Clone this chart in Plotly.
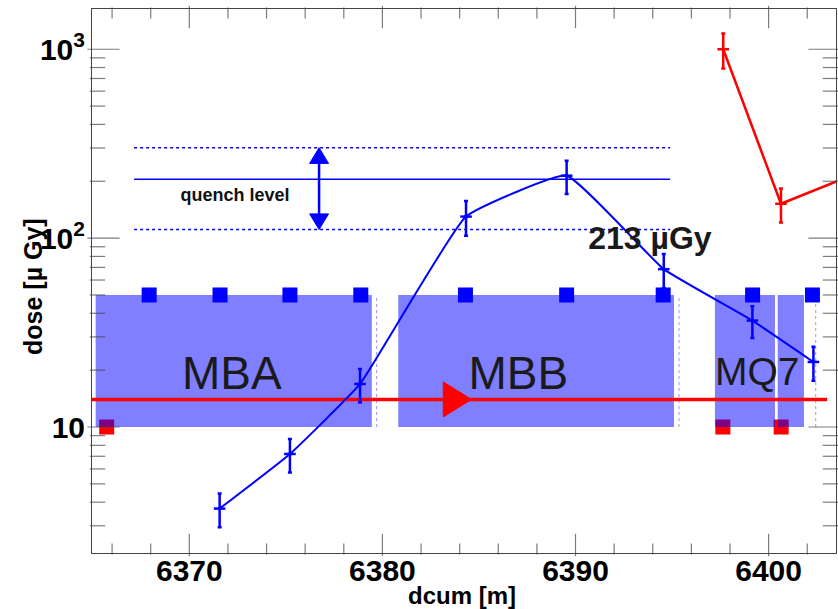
import plotly.graph_objects as go

# ---------------- data ----------------
blm_x = [6371.57, 6375.21, 6378.84, 6384.33, 6389.54, 6394.57, 6399.16, 6402.32]
blm_dose = [3.7, 7.2, 16.9, 130, 214, 68.5, 36.6, 22.1]
blm_err = [0.75, 1.45, 3.4, 27, 43, 14, 7, 4.5]

red_x = [6397.65, 6400.64, 6405.0]
red_dose = [1000, 152, 230]
red_err = [210, 31, 40]

blm_pos_blue = [6367.92, 6371.59, 6375.21, 6378.88, 6384.30, 6389.54, 6394.54, 6399.17, 6402.27]
blm_pos_red = [6365.72, 6397.63, 6400.65]

magnet_names = ["MBA", "MBB", "MQ7"]
magnet_label_x = [6372.2, 6387.04, 6399.41]
magnet_label_y = [18.2, 18.2, 18.9]
magnet_x0 = [6365.15, 6380.82, 6397.22, 6400.47]
magnet_x1 = [6379.45, 6395.10, 6400.33, 6401.83]
magnet_ylow = 10
magnet_yhigh = 50
thin_x = [6379.70, 6395.36, 6402.44]

quench_level = 205
quench_low = 111
quench_high = 301
quench_x = [6367.14, 6394.9]
quench_arrow_x = 6376.72

beam_y = 14
beam_x = [6364.96, 6403.03]

x_range = [6364.96, 6403.49]
y_log_range = [0.333, 3.213]
x_tickvals = [6370, 6380, 6390, 6400]
x_minor = [6366, 6368, 6372, 6374, 6376, 6378, 6382, 6384, 6386, 6388,
           6392, 6394, 6396, 6398, 6402]
y_tickvals = [10, 100, 1000]
y_ticktext = ["10", "10<sup>2</sup>", "10<sup>3</sup>"]
y_minor = [3, 4, 5, 6, 7, 8, 9, 20, 30, 40, 50, 60, 70, 80, 90,
           200, 300, 400, 500, 600, 700, 800, 900]

FONT = "Liberation Sans, Arial, Helvetica, sans-serif"
BLUE = "#0000ff"
RED = "#ff0000"
FRAME = "#444444"

fig = go.Figure()

# red BLM squares (under magnets)
fig.add_trace(go.Scatter(x=blm_pos_red, y=[magnet_ylow] * len(blm_pos_red), mode="markers",
                         marker=dict(symbol="square", size=15, color=RED, line=dict(width=0)),
                         hoverinfo="skip"))

# magnet boxes
for a, b in zip(magnet_x0, magnet_x1):
    fig.add_trace(go.Scatter(x=[a, b, b, a, a],
                             y=[magnet_ylow, magnet_ylow, magnet_yhigh, magnet_yhigh, magnet_ylow],
                             mode="lines", fill="toself", fillcolor="rgba(0,0,255,0.5)",
                             line=dict(width=0), hoverinfo="skip"))
for tx_ in thin_x:
    fig.add_trace(go.Scatter(x=[tx_, tx_], y=[magnet_ylow, magnet_yhigh * 0.97], mode="lines",
                             line=dict(color="rgba(80,80,255,0.6)", width=1, dash="dot"),
                             hoverinfo="skip"))

# magnet labels
fig.add_trace(go.Scatter(x=magnet_label_x[:2], y=magnet_label_y[:2], mode="text",
                         text=magnet_names[:2], textposition="middle center",
                         textfont=dict(family=FONT, size=46, color="#1a1a1a")))
fig.add_trace(go.Scatter(x=magnet_label_x[2:], y=magnet_label_y[2:], mode="text",
                         text=magnet_names[2:], textposition="middle center",
                         textfont=dict(family=FONT, size=39, color="#1a1a1a")))

# beam line and arrow
fig.add_trace(go.Scatter(x=beam_x, y=[beam_y, beam_y], mode="lines",
                         line=dict(color=RED, width=3.5), hoverinfo="skip"))
arrow_base = 6383.15
arrow_tip = 6384.62
fig.add_trace(go.Scatter(x=[arrow_base, arrow_tip, arrow_base, arrow_base],
                         y=[beam_y * 0.808, beam_y, beam_y * 1.238, beam_y * 0.808],
                         mode="lines", fill="toself", fillcolor=RED,
                         line=dict(color=RED, width=1), hoverinfo="skip"))

# blue BLM squares
fig.add_trace(go.Scatter(x=blm_pos_blue, y=[magnet_yhigh] * len(blm_pos_blue), mode="markers",
                         marker=dict(symbol="square", size=15, color=BLUE, line=dict(width=0)),
                         hoverinfo="skip"))

# quench level lines
fig.add_trace(go.Scatter(x=quench_x, y=[quench_level] * 2, mode="lines",
                         line=dict(color=BLUE, width=1.5), hoverinfo="skip"))
for qy in (quench_low, quench_high):
    fig.add_trace(go.Scatter(x=quench_x, y=[qy] * 2, mode="lines",
                             line=dict(color=BLUE, width=1.5, dash="dot"), hoverinfo="skip"))
fig.add_trace(go.Scatter(x=[quench_arrow_x] * 2, y=[quench_low * 1.1, quench_high * 0.9], mode="lines",
                         line=dict(color=BLUE, width=2.5), hoverinfo="skip"))
hw = 0.49
top_base = quench_high * 10 ** (-0.083)
bot_base = quench_low * 10 ** (0.083)
fig.add_trace(go.Scatter(x=[quench_arrow_x - hw, quench_arrow_x, quench_arrow_x + hw, quench_arrow_x - hw],
                         y=[top_base, quench_high, top_base, top_base], mode="lines", fill="toself",
                         fillcolor=BLUE, line=dict(color=BLUE, width=1), hoverinfo="skip"))
fig.add_trace(go.Scatter(x=[quench_arrow_x - hw, quench_arrow_x, quench_arrow_x + hw, quench_arrow_x - hw],
                         y=[bot_base, quench_low, bot_base, bot_base], mode="lines", fill="toself",
                         fillcolor=BLUE, line=dict(color=BLUE, width=1), hoverinfo="skip"))
fig.add_trace(go.Scatter(x=[6372.37], y=[166], mode="text", text=["quench level"],
                         textposition="middle center",
                         textfont=dict(family=FONT, size=18, color="#111111", weight="bold")))

# measured doses
fig.add_trace(go.Scatter(x=blm_x, y=blm_dose, mode="lines+markers",
                         line=dict(color=BLUE, width=2, shape="spline", smoothing=0.35),
                         marker=dict(symbol="circle", size=4, color=BLUE),
                         error_y=dict(type="data", array=blm_err, color=BLUE, thickness=2.5, width=2),
                         error_x=dict(type="constant", value=0.3, color=BLUE, thickness=2.5, width=0)))
fig.add_trace(go.Scatter(x=red_x, y=red_dose, mode="lines+markers",
                         line=dict(color=RED, width=2.5),
                         marker=dict(symbol="circle", size=4, color=RED),
                         error_y=dict(type="data", array=red_err, color=RED, thickness=2.5, width=2),
                         error_x=dict(type="constant", value=0.3, color=RED, thickness=2.5, width=0)))

fig.add_trace(go.Scatter(x=[6393.85], y=[96], mode="text", text=["213 µGy"],
                         textposition="middle center",
                         textfont=dict(family=FONT, size=32, color="#1a1a1a", weight="bold")))

# ROOT-style tick marks inside the frame on all four sides (line markers)
PLOT_W, PLOT_H = 744, 544
x_per_px = (x_range[1] - x_range[0]) / PLOT_W
logy_per_px = (y_log_range[1] - y_log_range[0]) / PLOT_H
ylo, yhi = 10 ** y_log_range[0], 10 ** y_log_range[1]
mx_v, my_v, ms_v = [], [], []   # vertical tick markers (x axis)
mx_h, my_h, ms_h = [], [], []   # horizontal tick markers (y axis)
for vals, length in ((x_tickvals, 16), (x_minor, 8)):
    fh = 10 ** (length / 2 * logy_per_px)
    for v in vals:
        mx_v += [v, v]
        my_v += [ylo * fh, yhi / fh]
        ms_v += [length, length]
for vals, length in ((y_tickvals, 23), (y_minor, 11)):
    d = length * x_per_px
    for v in vals:
        mx_h += [x_range[0] + d / 2, x_range[1] - d / 2]
        my_h += [v, v]
        ms_h += [length, length]
fig.add_trace(go.Scatter(x=mx_v, y=my_v, mode="markers", hoverinfo="skip", cliponaxis=False,
                         marker=dict(symbol="line-ns-open", size=ms_v, color=FRAME,
                                     line=dict(color=FRAME, width=1.2))))
fig.add_trace(go.Scatter(x=mx_h, y=my_h, mode="markers", hoverinfo="skip", cliponaxis=False,
                         marker=dict(symbol="line-ew-open", size=ms_h, color=FRAME,
                                     line=dict(color=FRAME, width=1.2))))

axis_common = dict(showline=True, linecolor=FRAME, linewidth=1, mirror=True, ticks="",
                   showgrid=False, zeroline=False, automargin=False,
                   tickfont=dict(family=FONT, size=30, color="#000000", weight="bold"))

fig.update_layout(
    width=838, height=609,
    margin=dict(l=92, r=2, t=9, b=56, autoexpand=False),
    paper_bgcolor="white", plot_bgcolor="white",
    showlegend=False,
    xaxis=dict(range=x_range, tickmode="array", tickvals=x_tickvals, ticklabelstandoff=-9,
               **axis_common),
    yaxis=dict(type="log", range=y_log_range, tickmode="array", tickvals=y_tickvals,
               ticktext=y_ticktext, **axis_common),
    annotations=[
        dict(text="dcum [m]", xref="paper", yref="paper", x=0.497, y=-0.079,
             showarrow=False, font=dict(family=FONT, size=24, color="#000000", weight="bold"),
             xanchor="center", yanchor="middle"),
        dict(text="dose [µ Gy]", xref="paper", yref="paper", x=-0.0793, y=0.489,
             showarrow=False, textangle=-90,
             font=dict(family=FONT, size=25, color="#000000", weight="bold"),
             xanchor="center", yanchor="middle"),
    ],
)

fig.write_html("out.html", config={"displayModeBar": False},
               post_script="document.body.style.margin='0px';")
